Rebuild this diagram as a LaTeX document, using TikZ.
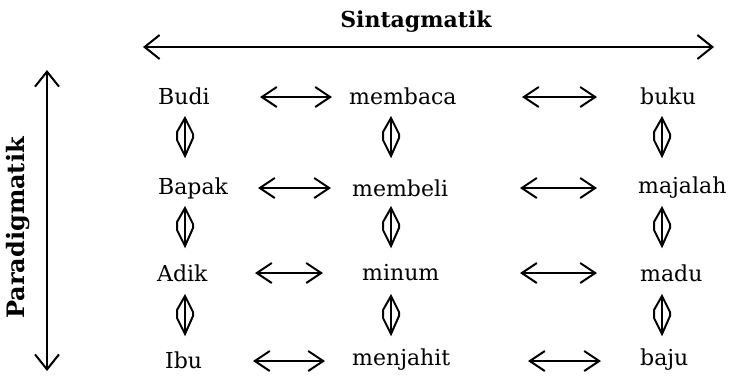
\documentclass[tikz,border=0pt]{standalone}
\usepackage{fontspec}
\setmainfont{DejaVu Serif}
\usetikzlibrary{arrows.meta}
\begin{document}
\begin{tikzpicture}[x=1pt,y=-1pt,
  word/.style={inner sep=0pt,anchor=west,font=\fontsize{22}{26}\selectfont},
  axislabel/.style={inner sep=0pt,font=\fontsize{22}{26}\selectfont\bfseries},
  bigarrow/.style={line width=2pt,{Straight Barb[length=15pt,width=24pt,line width=2pt]}-{Straight Barb[length=15pt,width=24pt,line width=2pt]}},
  harrow/.style={line width=2pt,{Straight Barb[length=15pt,width=20pt,line width=2pt]}-{Straight Barb[length=15pt,width=20pt,line width=2pt]}},
  varrow/.style={line width=2pt,line join=miter}
]
\useasboundingbox (0,0) rectangle (736,376);
% axes
\coordinate (sl) at (143,47);
\coordinate (sr) at (714,47);
\draw[bigarrow] (sl) -- (sr);
\node[axislabel] (sint) at (416,22) {Sintagmatik};
\coordinate (pt) at (47,70);
\coordinate (pb) at (47,371);
\draw[bigarrow] (pt) -- (pb);
\node[axislabel,font=\fontsize{24}{28}\selectfont\bfseries,rotate=90] (para) at (18,228) {Paradigmatik};
% words
\node[word] (a1) at (158,96) {Budi};
\node[word] (b1) at (349,96) {membaca};
\node[word] (c1) at (640,96) {buku};
\node[word] (a2) at (158,188) {Bapak};
\node[word] (b2) at (352,188) {membeli};
\node[word] (c2) at (638,188) {majalah};
\node[word] (a3) at (157,273) {Adik};
\node[word] (b3) at (362,273) {minum};
\node[word] (c3) at (640,273) {madu};
\node[word] (a4) at (165,360) {Ibu};
\node[word] (b4) at (352,360) {menjahit};
\node[word] (c4) at (640,360) {baju};
% horizontal arrows
\foreach \y/\xa/\xb/\xc/\xd in {97/260/332/522/597, 188/258/331/520/597, 273/255/323/520/597, 361/253/325/528/601}{
  \coordinate (hl) at (\xa,\y); \coordinate (hr) at (\xb,\y);
  \draw[harrow] (hl) -- (hr);
  \coordinate (hl) at (\xc,\y); \coordinate (hr) at (\xd,\y);
  \draw[harrow] (hl) -- (hr);
}
% vertical double arrows
\foreach \x in {185,391,662}{
  \foreach \y in {137,227,315}{
    \draw[varrow] (\x,\y-19) -- (\x,\y+19);
    \draw[varrow] (\x,\y-19) -- (\x-8,\y-5) -- (\x-8,\y+3) -- (\x,\y+19) -- (\x+8,\y+1) -- (\x+8,\y-3) -- cycle;
  }
}
\end{tikzpicture}
\end{document}
